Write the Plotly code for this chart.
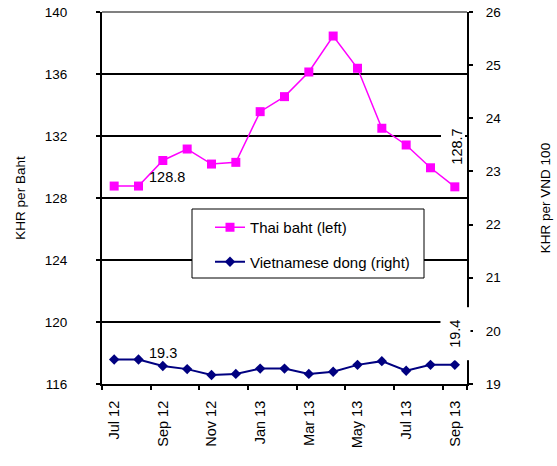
import plotly.graph_objects as go

# Monthly cross rates of the riel
months = ["Jul 12", "Aug 12", "Sep 12", "Oct 12", "Nov 12", "Dec 12", "Jan 13", "Feb 13",
          "Mar 13", "Apr 13", "May 13", "Jun 13", "Jul 13", "Aug 13", "Sep 13"]
thai_baht = [128.77, 128.77, 130.42, 131.16, 130.19, 130.30, 133.57, 134.54,
             136.13, 138.45, 136.37, 132.50, 131.42, 129.95, 128.72]
vietnamese_dong = [19.46, 19.46, 19.34, 19.28, 19.17, 19.19, 19.29, 19.29,
                   19.19, 19.23, 19.36, 19.43, 19.25, 19.36, 19.36]
left_ticks = [116, 120, 124, 128, 132, 136, 140]
right_ticks = [19, 20, 21, 22, 23, 24, 25, 26]

FONT = "Liberation Sans, Arial, sans-serif"
MAGENTA = "#FF00FF"
NAVY = "#000080"

idx = list(range(len(months)))
label_idx = idx[::2]
label_txt = months[::2]
boundaries = [i - 0.5 for i in label_idx] + [len(months) - 0.5]

# plot-area geometry in pixels
W, H = 557, 466
L, R, T, B = 102, 90, 12, 82
PW, PH = W - L - R, H - T - B


def px_x(p):
    return (p - L) / PW


def px_y(p):
    return (H - B - p) / PH


fig = go.Figure()
fig.add_trace(go.Scatter(
    x=idx, y=thai_baht, name="Thai baht (left)", mode="lines+markers",
    line=dict(color=MAGENTA, width=1.5),
    marker=dict(symbol="square", size=9, color=MAGENTA),
    legendgroup="thb", yaxis="y"))
fig.add_trace(go.Scatter(
    x=idx, y=vietnamese_dong, name="Vietnamese dong (right)", mode="lines+markers",
    line=dict(color=NAVY, width=2),
    marker=dict(symbol="diamond", size=8, color=NAVY),
    legendgroup="vnd", yaxis="y2"))

# legend frame (no series runs through this area)
fig.add_shape(type="rect", xref="paper", yref="paper",
              x0=px_x(192), x1=px_x(424), y0=px_y(278), y1=px_y(209),
              fillcolor="white", line=dict(color="black", width=1), layer="above")
# white patch behind the rotated end label of the baht line
fig.add_shape(type="rect", xref="paper", yref="paper",
              x0=px_x(441), x1=px_x(465), y0=px_y(168), y1=px_y(124),
              fillcolor="white", line=dict(width=0), layer="above")
# grey top border
fig.add_shape(type="line", xref="paper", yref="paper", x0=0, x1=1, y0=1, y1=1,
              line=dict(color="#808080", width=2), layer="above")

lab_font = dict(family=FONT, size=14.5, color="black")
fig.add_annotation(x=0, y=thai_baht[0], xref="x", yref="y", text=f"{thai_baht[0]:.1f}",
                   showarrow=False, xshift=53, yshift=9, font=lab_font)
fig.add_annotation(x=14, y=thai_baht[14], xref="x", yref="y", text=f"{thai_baht[14]:.1f}",
                   showarrow=False, xshift=2, yshift=40, textangle=-90, font=lab_font)
fig.add_annotation(x=2, y=vietnamese_dong[2], xref="x", yref="y2", text=f"{vietnamese_dong[2]:.1f}",
                   showarrow=False, xshift=0, yshift=13, font=lab_font)
fig.add_annotation(x=14, y=vietnamese_dong[14], xref="x", yref="y2", text=f"{vietnamese_dong[14]:.1f}",
                   showarrow=False, xshift=1, yshift=31, textangle=-90, font=lab_font,
                   bgcolor="white", width=50, height=27)

ytick_font = dict(family=FONT, size=13.5, color="black")
xtick_font = dict(family=FONT, size=14.5, color="black")
fig.update_layout(
    width=W, height=H,
    margin=dict(l=L, r=R, t=T, b=B, pad=0),
    paper_bgcolor="white", plot_bgcolor="white",
    font=dict(family=FONT, size=13, color="black"),
    showlegend=True,
    legend=dict(x=px_x(210), y=px_y(211), xanchor="left", yanchor="top",
                bgcolor="rgba(0,0,0,0)", borderwidth=0, tracegroupgap=12,
                font=dict(family=FONT, size=15, color="black")),
    xaxis=dict(range=[-0.5, len(months) - 0.5], tickmode="array",
               tickvals=label_idx, ticktext=label_txt, tickangle=-90, ticks="",
               ticklabelstandoff=9, tickfont=xtick_font,
               minor=dict(tickmode="array", tickvals=boundaries, ticks="outside",
                          ticklen=4, tickcolor="black", tickwidth=1.5),
               showline=True, linecolor="black", linewidth=2,
               showgrid=False, zeroline=False, automargin=False),
    yaxis=dict(range=[116, 140], tickmode="array", tickvals=left_ticks,
               ticks="outside", ticklen=4, tickcolor="black", tickwidth=1.5,
               showline=True, linecolor="black", linewidth=2,
               showgrid=True, gridcolor="black", gridwidth=1.5, zeroline=False,
               ticklabelstandoff=26, tickfont=ytick_font,
               title=dict(text="KHR per Baht", font=dict(family=FONT, size=13.5), standoff=16),
               automargin=False),
    yaxis2=dict(range=[19, 26], tickmode="array", tickvals=right_ticks,
                overlaying="y", side="right", anchor="x",
                ticks="outside", ticklen=4, tickcolor="black", tickwidth=1.5,
                showline=True, linecolor="black", linewidth=2,
                showgrid=False, zeroline=False,
                ticklabelstandoff=10, tickfont=ytick_font,
                title=dict(text="KHR per VND 100", font=dict(family=FONT, size=13.5), standoff=40),
                automargin=False),
    yaxis3=dict(range=[19, 26], tickmode="array", tickvals=right_ticks,
                overlaying="y", side="right", anchor="x",
                ticks="inside", ticklen=3, tickcolor="black", tickwidth=1.5,
                showline=False, showgrid=False, zeroline=False,
                showticklabels=False, automargin=False),
)

fig.write_html("out.html")
